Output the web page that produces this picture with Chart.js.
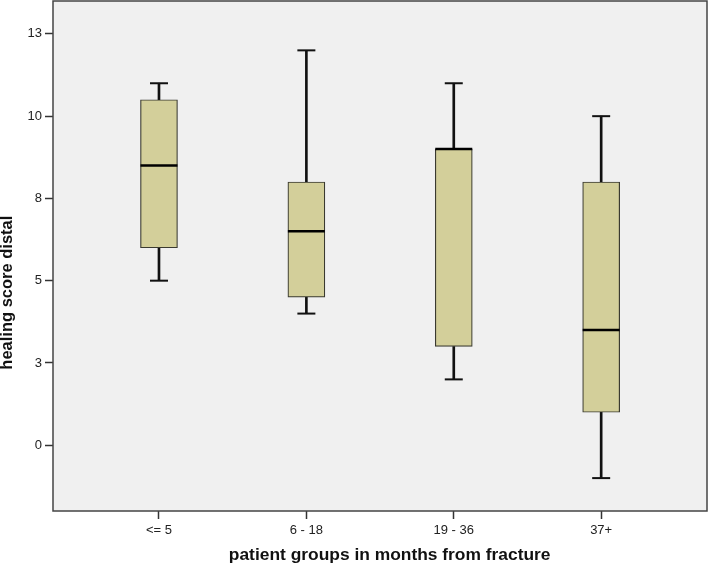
<!DOCTYPE html>
<html>
<head>
<meta charset="utf-8">
<title>healing score distal</title>
<script src="https://cdn.jsdelivr.net/npm/chart.js@4.4.1/dist/chart.umd.min.js"></script>
<style>
  html, body { margin: 0; padding: 0; background: #fff; }
  #wrap { width: 709px; height: 567px; }
</style>
</head>
<body>
<div id="wrap"><canvas id="healingBoxPlot"></canvas></div>
<script>
// group labels and box statistics
const groupLabels = ['<= 5', '6 - 18', '19 - 36', '37+'];
const minVals = [5, 4, 2, -1];
const q1Vals = [6, 4.5, 3, 1];
const medianVals = [8.5, 6.5, 9, 3.5];
const q3Vals = [10.5, 8, 9, 8];
const maxVals = [11, 12, 11, 10];

// y ticks sit at 2.5 steps but the labels are rounded (SPSS style)
const yTickValues = [0, 2.5, 5, 7.5, 10, 12.5];
const yTickLabels = ['0', '3', '5', '8', '10', '13'];

const boxFill = '#d3cf9a';

function pts(vals) {
  return vals.map((v, i) => ({ x: i, y: v }));
}
function spans(a, b) {
  return a.map((v, i) => ({ x: i, y: [v, b[i]] }));
}

// grey plot background and frame
const plotFrame = {
  id: 'plotFrame',
  beforeDraw(chart) {
    const { ctx, chartArea: a } = chart;
    ctx.save();
    ctx.fillStyle = '#f0f0f0';
    ctx.fillRect(a.left, a.top, a.right - a.left, a.bottom - a.top);
    ctx.restore();
  },
  afterDraw(chart) {
    const { ctx, chartArea: a } = chart;
    ctx.save();
    ctx.strokeStyle = '#444';
    ctx.lineWidth = 1.5;
    ctx.strokeRect(a.left, a.top, a.right - a.left, a.bottom - a.top);
    ctx.restore();
  }
};

const ctx = document.getElementById('healingBoxPlot').getContext('2d');

new Chart(ctx, {
  type: 'bar',
  data: {
    datasets: [
      {
        type: 'line',
        label: 'median',
        data: pts(medianVals),
        showLine: false,
        pointStyle: 'line',
        pointRadius: 18.5,
        borderColor: '#000',
        borderWidth: 2.5,
        order: 0
      },
      {
        type: 'line',
        label: 'whisker caps',
        data: pts(minVals).concat(pts(maxVals)),
        showLine: false,
        pointStyle: 'line',
        pointRadius: 9,
        borderColor: '#111',
        borderWidth: 2,
        order: 1
      },
      {
        label: 'box',
        data: spans(q1Vals, q3Vals),
        backgroundColor: boxFill,
        borderColor: '#3a3a30',
        borderWidth: 1.2,
        borderSkipped: false,
        barThickness: 37,
        grouped: false,
        order: 2
      },
      {
        label: 'lower whisker',
        data: spans(minVals, q1Vals),
        backgroundColor: '#111',
        barThickness: 2,
        grouped: false,
        order: 3
      },
      {
        label: 'upper whisker',
        data: spans(q3Vals, maxVals),
        backgroundColor: '#111',
        barThickness: 2,
        grouped: false,
        order: 3
      }
    ]
  },
  options: {
    responsive: true,
    maintainAspectRatio: false,
    animation: false,
    events: [],
    layout: { autoPadding: false, padding: { top: 1, right: 2, left: 0, bottom: 0 } },
    plugins: {
      legend: { display: false },
      tooltip: { enabled: false }
    },
    scales: {
      x: {
        type: 'linear',
        offset: false,
        min: -0.719,
        max: 3.718,
        afterBuildTicks(scale) {
          scale.ticks = groupLabels.map((_, i) => ({ value: i }));
        },
        afterFit(scale) {
          scale.height = 56;
          scale.paddingLeft = 0;
          scale.paddingRight = 0;
        },
        ticks: {
          autoSkip: false,
          maxRotation: 0,
          padding: 4,
          color: '#222',
          font: { family: 'Liberation Sans, Arial, sans-serif', size: 13 },
          callback: (v) => groupLabels[v]
        },
        grid: {
          offset: false,
          drawOnChartArea: false,
          drawTicks: true,
          tickLength: 8,
          tickWidth: 1.5,
          tickColor: '#333'
        },
        border: { display: false },
        title: {
          display: true,
          // leading spaces nudge the centred title right like the original
          text: '    patient groups in months from fracture',
          color: '#111',
          padding: { top: 0, bottom: 1 },
          font: { family: 'Liberation Sans, Arial, sans-serif', size: 17.4, weight: 'bold' }
        }
      },
      y: {
        min: -2.0,
        max: 13.5,
        afterBuildTicks(scale) {
          scale.ticks = yTickValues.map((v) => ({ value: v }));
        },
        afterFit(scale) {
          scale.width = 53;
          scale.paddingTop = 0;
          scale.paddingBottom = 0;
        },
        ticks: {
          padding: 3,
          color: '#222',
          font: { family: 'Liberation Sans, Arial, sans-serif', size: 13 },
          callback: (v) => yTickLabels[yTickValues.indexOf(v)]
        },
        grid: {
          drawOnChartArea: false,
          drawTicks: true,
          tickLength: 8,
          tickWidth: 1.5,
          tickColor: '#333'
        },
        border: { display: false },
        title: {
          display: true,
          // trailing spaces push the centred title down like the original
          text: 'healing score distal                ',
          color: '#111',
          padding: { top: -1, bottom: 0 },
          font: { family: 'Liberation Sans, Arial, sans-serif', size: 16.5, weight: 'bold', lineHeight: 1 }
        }
      }
    }
  },
  plugins: [plotFrame]
});
</script>
</body>
</html>
